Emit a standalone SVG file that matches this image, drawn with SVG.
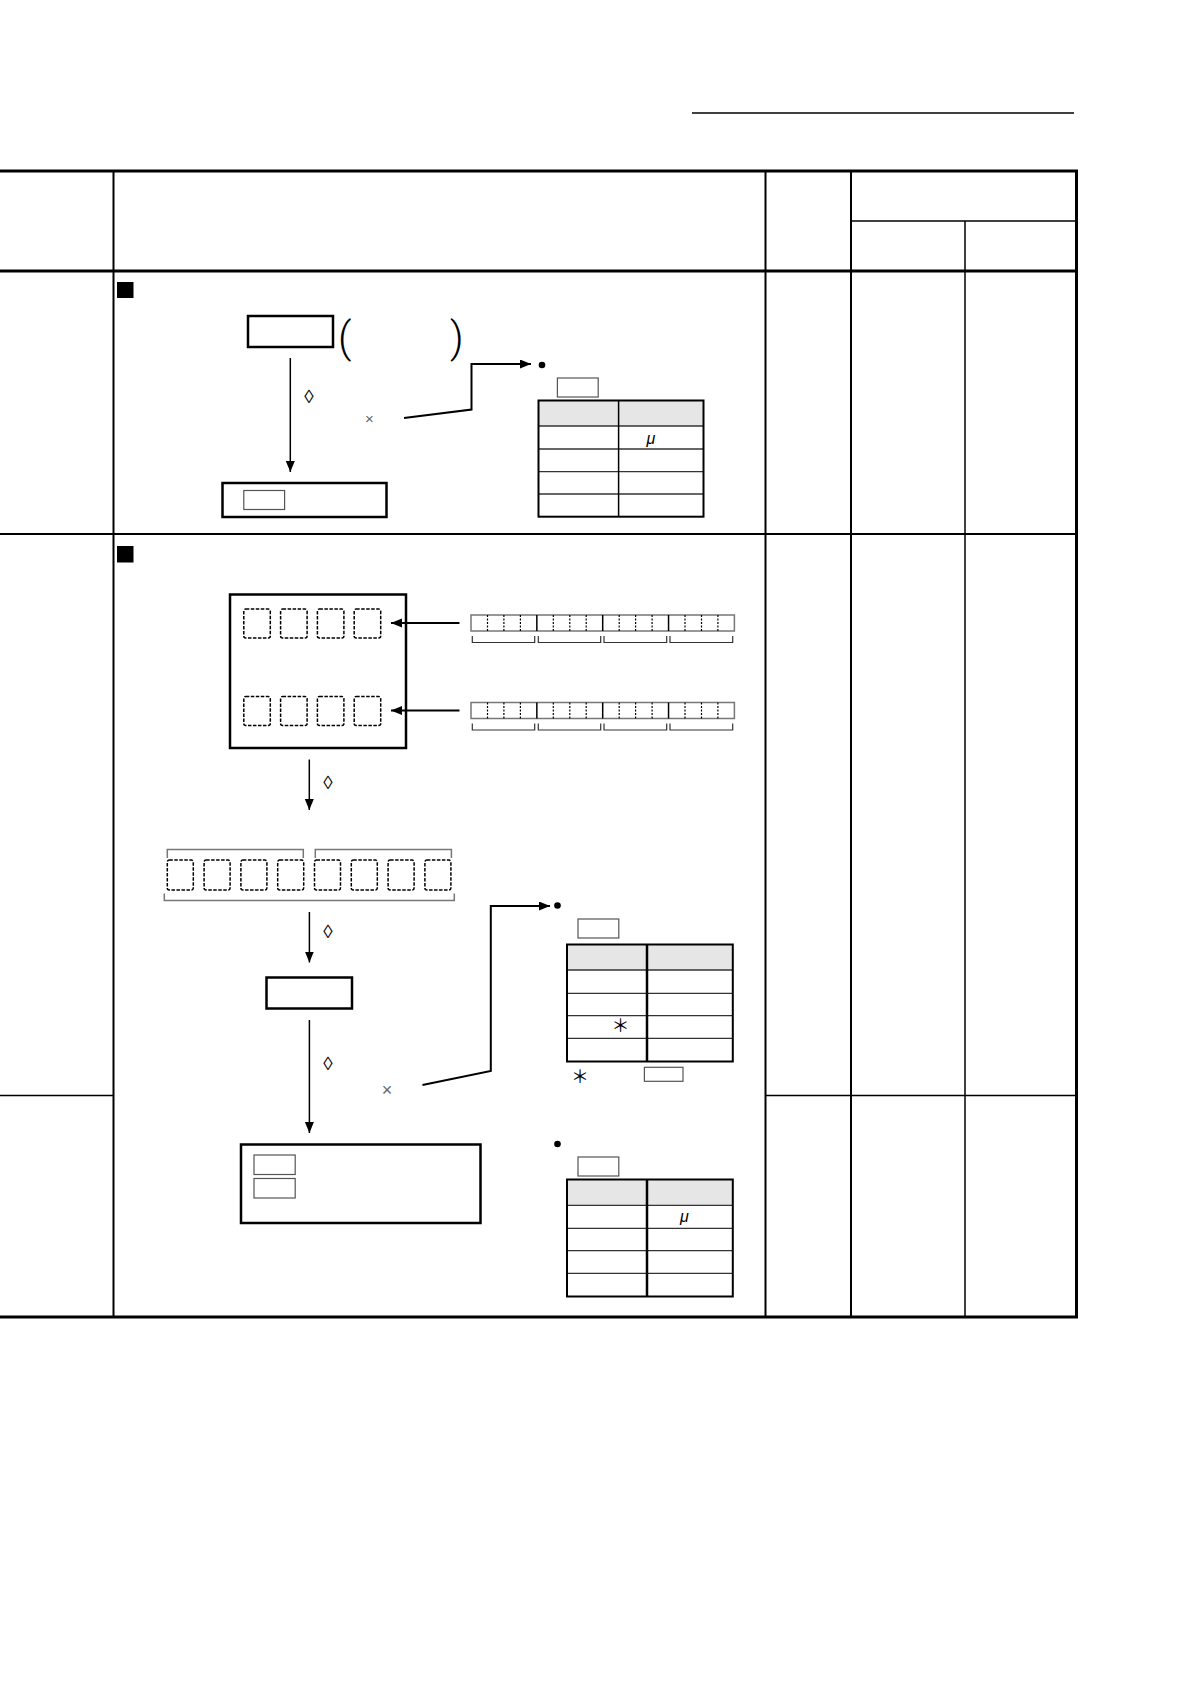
<svg xmlns="http://www.w3.org/2000/svg" xmlns:xlink="http://www.w3.org/1999/xlink" width="1190" height="1684" viewBox="0 0 1190 1684">
<style>
.tb{stroke:#000;stroke-width:3;fill:none}
.tm{stroke:#000;stroke-width:2;fill:none}
.tt{stroke:#000;stroke-width:1.5;fill:none}
.box{fill:#fff;stroke:#000;stroke-width:2.5}
.sbox{fill:#fff;stroke:#555;stroke-width:1.2}
.dash{fill:none;stroke:#000;stroke-width:1.5;stroke-dasharray:3.5 1.5}
.brk{fill:none;stroke:#777;stroke-width:1.5}
.brk2{fill:none;stroke:#333;stroke-width:1.2}
.arr{fill:none;stroke:#000;stroke-width:1.5;marker-end:url(#ah)}
.arr2{fill:none;stroke:#000;stroke-width:2;marker-end:url(#ah)}
.hdr{fill:#e6e6e6;stroke:none}
.tout{fill:none;stroke:#000;stroke-width:2}
.tin{fill:none;stroke:#333;stroke-width:1.3}
.tcol{fill:none;stroke:#000;stroke-width:2.5}
.sym{font-family:"Liberation Sans",Arial,sans-serif;fill:#000}
.par{font-family:Roboto,"Liberation Sans",sans-serif;font-weight:300;fill:#000}
.gray{fill:#666}
</style>
<defs>
<marker id="ah" markerUnits="userSpaceOnUse" markerWidth="12" markerHeight="10" refX="11" refY="4.5" orient="auto">
<path d="M0,0 L11,4.5 L0,9 z" fill="#000"/>
</marker>
<g id="bits">
<rect x="0" y="0" width="263.4" height="16" fill="#fff" stroke="#777" stroke-width="1.5"/>
<g stroke="#000" stroke-width="1.2" stroke-dasharray="2 1.5">
<line x1="16.5" y1="0" x2="16.5" y2="16"/><line x1="32.9" y1="0" x2="32.9" y2="16"/><line x1="49.4" y1="0" x2="49.4" y2="16"/>
<line x1="82.3" y1="0" x2="82.3" y2="16"/><line x1="98.8" y1="0" x2="98.8" y2="16"/><line x1="115.2" y1="0" x2="115.2" y2="16"/>
<line x1="148.2" y1="0" x2="148.2" y2="16"/><line x1="164.6" y1="0" x2="164.6" y2="16"/><line x1="181.1" y1="0" x2="181.1" y2="16"/>
<line x1="214" y1="0" x2="214" y2="16"/><line x1="230.5" y1="0" x2="230.5" y2="16"/><line x1="246.9" y1="0" x2="246.9" y2="16"/>
</g>
<g stroke="#000" stroke-width="1.5">
<line x1="65.85" y1="0" x2="65.85" y2="16"/><line x1="131.7" y1="0" x2="131.7" y2="16"/><line x1="197.55" y1="0" x2="197.55" y2="16"/>
</g>
<g class="brk2">
<path d="M1.3 21 V27.5 H63.7 V21"/>
<path d="M67.3 21 V27.5 H129.7 V21"/>
<path d="M133 21 V27.5 H195.7 V21"/>
<path d="M199 21 V27.5 H261.7 V21"/>
</g>
</g>
</defs>

<rect x="0" y="0" width="1190" height="1684" fill="#fff"/>

<g id="page-rule">
<line x1="692" y1="113" x2="1074" y2="113" stroke="#000" stroke-width="1.5"/>
</g>

<g id="table-grid">
<line class="tb" x1="0" y1="171" x2="1078" y2="171"/>
<line class="tb" x1="0" y1="271" x2="1078" y2="271"/>
<line class="tb" x1="0" y1="1317" x2="1078" y2="1317"/>
<line class="tb" x1="1076.5" y1="170" x2="1076.5" y2="1318"/>
<line class="tm" x1="113.5" y1="171" x2="113.5" y2="1317"/>
<line class="tm" x1="765.5" y1="171" x2="765.5" y2="1317"/>
<line class="tm" x1="851" y1="171" x2="851" y2="1317"/>
<line class="tt" x1="965" y1="221" x2="965" y2="1317"/>
<line class="tt" x1="851" y1="221" x2="1077" y2="221"/>
<line class="tm" x1="0" y1="534" x2="1077" y2="534"/>
<line class="tt" x1="0" y1="1095.5" x2="113.5" y2="1095.5"/>
<line class="tt" x1="765.5" y1="1095.5" x2="1077" y2="1095.5"/>
</g>

<g id="section1">
<rect id="sq1" x="117" y="282" width="16.5" height="16" fill="#000"/>
<g id="box1"><rect class="box" x="248" y="316" width="85" height="31"/></g>
<text class="par" x="338" y="352" font-size="42">(</text>
<text class="par" x="450" y="352" font-size="42">)</text>
<text class="sym" x="309" y="403" font-size="19" text-anchor="middle">◊</text>
<text class="sym gray" x="369.5" y="424" font-size="15" text-anchor="middle">×</text>
<g id="box2"><rect class="box" x="222.5" y="483" width="164" height="34"/>
<rect class="sbox" x="243.8" y="490.5" width="40.8" height="19"/></g>
<circle cx="542" cy="365" r="3.3" fill="#000"/>
<rect class="sbox" x="557.4" y="378" width="40.8" height="19"/>
<g id="table1">
<rect class="hdr" x="538.5" y="400.5" width="165" height="25.5"/>
<line class="tin" x1="538.5" y1="426" x2="703.5" y2="426"/>
<line class="tin" x1="538.5" y1="449" x2="703.5" y2="449"/>
<line class="tin" x1="538.5" y1="471.7" x2="703.5" y2="471.7"/>
<line class="tin" x1="538.5" y1="494" x2="703.5" y2="494"/>
<line class="tt" x1="618.6" y1="400.5" x2="618.6" y2="516.7"/>
<rect class="tout" x="538.5" y="400.5" width="165" height="116.2"/>
<text class="sym" x="651" y="444" font-size="16" font-style="italic" text-anchor="middle">μ</text>
</g>
</g>

<g id="section2">
<rect id="sq2" x="117" y="546" width="16.5" height="16.5" fill="#000"/>
<g id="bigbox">
<rect class="box" x="230" y="594.5" width="176" height="153.5"/>
<rect class="dash" x="243.8" y="609" width="26.5" height="29" rx="2"/>
<rect class="dash" x="280.6" y="609" width="26.5" height="29" rx="2"/>
<rect class="dash" x="317.4" y="609" width="26.5" height="29" rx="2"/>
<rect class="dash" x="354.2" y="609" width="26.5" height="29" rx="2"/>
<rect class="dash" x="243.8" y="696.5" width="26.5" height="29" rx="2"/>
<rect class="dash" x="280.6" y="696.5" width="26.5" height="29" rx="2"/>
<rect class="dash" x="317.4" y="696.5" width="26.5" height="29" rx="2"/>
<rect class="dash" x="354.2" y="696.5" width="26.5" height="29" rx="2"/>
</g>
<g id="bits1"><use xlink:href="#bits" href="#bits" x="471" y="615"/></g>
<g id="bits2"><use xlink:href="#bits" href="#bits" x="471" y="702.5"/></g>
<g id="row8">
<path class="brk" d="M167.3 858 V849.5 H303.3 V858"/>
<path class="brk" d="M315.3 858 V849.5 H451.4 V858"/>
<rect class="dash" x="167.3" y="860" width="26" height="30" rx="2"/>
<rect class="dash" x="204.1" y="860" width="26" height="30" rx="2"/>
<rect class="dash" x="240.9" y="860" width="26" height="30" rx="2"/>
<rect class="dash" x="277.7" y="860" width="26" height="30" rx="2"/>
<rect class="dash" x="314.5" y="860" width="26" height="30" rx="2"/>
<rect class="dash" x="351.3" y="860" width="26" height="30" rx="2"/>
<rect class="dash" x="388.1" y="860" width="26" height="30" rx="2"/>
<rect class="dash" x="424.9" y="860" width="26" height="30" rx="2"/>
<path class="brk" d="M164.3 893.6 V900.5 H454.3 V893.6"/>
</g>
<text class="sym" x="328" y="789" font-size="19" text-anchor="middle">◊</text>
<text class="sym" x="328" y="937.5" font-size="19" text-anchor="middle">◊</text>
<g id="box3"><rect class="box" x="266.5" y="977.5" width="85.5" height="31"/></g>
<text class="sym" x="328" y="1070" font-size="19" text-anchor="middle">◊</text>
<text class="sym gray" x="387" y="1095.5" font-size="18" text-anchor="middle">×</text>
<g id="box4"><rect class="box" x="241" y="1144.5" width="239.5" height="78.5"/>
<rect class="sbox" x="254" y="1155" width="41.2" height="19.5"/>
<rect class="sbox" x="254" y="1178.5" width="41.2" height="19.5"/></g>
<circle cx="557.5" cy="905.5" r="3.3" fill="#000"/>
<rect class="sbox" x="578" y="919" width="40.8" height="19"/>
<g id="table2">
<rect class="hdr" x="567" y="944.5" width="165.8" height="25.5"/>
<line class="tin" x1="567" y1="970" x2="732.8" y2="970" stroke="#000"/>
<line class="tin" x1="567" y1="993.3" x2="732.8" y2="993.3" stroke="#666"/>
<line class="tin" x1="567" y1="1015.7" x2="732.8" y2="1015.7" stroke="#666"/>
<line class="tin" x1="567" y1="1038.3" x2="732.8" y2="1038.3"/>
<line class="tcol" x1="647" y1="944.5" x2="647" y2="1061.5"/>
<rect class="tout" x="567" y="944.5" width="165.8" height="117"/>
<text x="620.5" y="1024" font-size="18" font-family="'Noto Sans CJK JP',sans-serif" text-anchor="middle" dominant-baseline="central">＊</text>
</g>
<text x="580" y="1075" font-size="18" font-family="'Noto Sans CJK JP',sans-serif" text-anchor="middle" dominant-baseline="central">＊</text>
<rect class="sbox" x="644.4" y="1067.3" width="38.6" height="14"/>
<circle cx="557.5" cy="1144" r="3.3" fill="#000"/>
<rect class="sbox" x="578" y="1157" width="40.8" height="19"/>
<g id="table3">
<rect class="hdr" x="567" y="1179.5" width="165.8" height="25.8"/>
<line class="tin" x1="567" y1="1205.3" x2="732.8" y2="1205.3" stroke="#000"/>
<line class="tin" x1="567" y1="1228.3" x2="732.8" y2="1228.3"/>
<line class="tin" x1="567" y1="1250.7" x2="732.8" y2="1250.7"/>
<line class="tin" x1="567" y1="1273.3" x2="732.8" y2="1273.3"/>
<line class="tcol" x1="647" y1="1179.5" x2="647" y2="1296.5"/>
<rect class="tout" x="567" y="1179.5" width="165.8" height="117"/>
<text class="sym" x="684.5" y="1222" font-size="16" font-style="italic" text-anchor="middle">μ</text>
</g>
</g>

<g id="connectors">
<line class="arr" x1="290.3" y1="358" x2="290.3" y2="472"/>
<polyline class="arr2" points="404,418 471.5,409.5 471.5,364 531,364"/>
<line class="arr2" x1="459.5" y1="623" x2="391" y2="623"/>
<line class="arr2" x1="459.5" y1="710.5" x2="391" y2="710.5"/>
<line class="arr" x1="309.3" y1="759.5" x2="309.3" y2="810"/>
<line class="arr" x1="309.4" y1="912" x2="309.4" y2="962.5"/>
<line class="arr" x1="309.4" y1="1020" x2="309.4" y2="1133"/>
<polyline class="arr2" points="422.5,1085 490.8,1071 490.8,906 550,906"/>
</g>
</svg>
